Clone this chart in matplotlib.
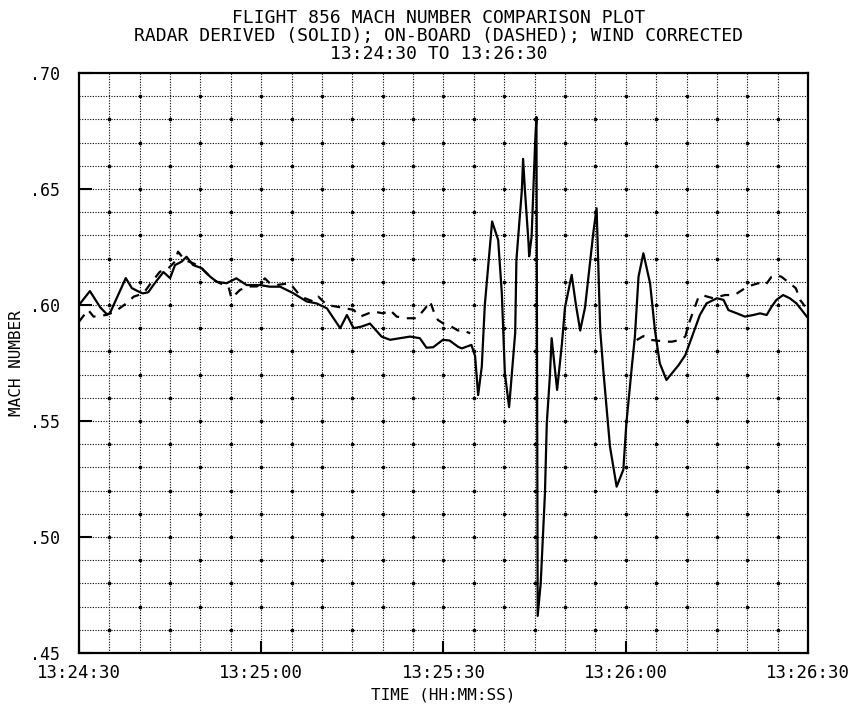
import numpy as np
import matplotlib
matplotlib.use("Agg")
import matplotlib.pyplot as plt

# seconds after 13:24:30
radar_t = [0.0, 1.8, 3.5, 4.6, 5.1, 7.7, 8.7, 9.8, 10.5, 11.4, 12.5, 13.9, 15.0, 15.8,
           16.9, 17.7, 18.8, 20.2, 21.6, 22.7, 24.3, 25.9, 27.6, 29.8, 31.4, 33.1, 35.2,
           37.5, 39.1, 40.8, 43.0, 44.1, 45.2, 46.5, 47.9, 49.8, 51.2, 54.5, 56.1, 57.2,
           58.3, 59.9, 61.0, 62.4, 63.0, 64.6, 65.2, 65.7, 66.3, 66.8, 68.0, 69.0, 69.6,
           70.1, 70.8, 71.8, 72.0, 72.9, 73.1, 73.4, 74.0, 74.1, 74.5, 75.1, 75.3, 75.5,
           76.0, 76.7, 77.0, 77.5, 77.8, 78.7, 79.5, 80.0, 81.1, 81.8, 82.5, 83.3, 84.7,
           85.2, 85.8, 86.3, 87.4, 88.5, 89.6, 90.1, 91.0, 91.5, 92.1, 92.9, 94.0, 94.8,
           95.6, 96.7, 98.7, 99.8, 100.9, 102.2, 103.3, 105.0, 106.1, 106.9, 108.3, 109.6,
           111.0, 112.1, 113.2, 114.0, 114.8, 115.9, 117.0, 118.1, 118.7, 119.8]
radar_mach = [0.600, 0.606, 0.599, 0.596, 0.5965, 0.6116, 0.6073, 0.6058, 0.605, 0.6055,
              0.6095, 0.6142, 0.6116, 0.6172, 0.6187, 0.6208, 0.6172, 0.6159, 0.6122, 0.610,
              0.6094, 0.6115, 0.6086, 0.6086, 0.6079, 0.6079, 0.6052, 0.6015, 0.6007, 0.5986,
              0.590, 0.5957, 0.590, 0.5907, 0.592, 0.5864, 0.585, 0.5864, 0.5857, 0.5816,
              0.5818, 0.585, 0.5847, 0.582, 0.5813, 0.5828, 0.578, 0.5612, 0.5734, 0.600,
              0.636, 0.628, 0.605, 0.5706, 0.556, 0.588, 0.6194, 0.6496, 0.663, 0.6496,
              0.6266, 0.621, 0.6294, 0.6711, 0.681, 0.466, 0.480, 0.519, 0.549, 0.569,
              0.5857, 0.5634, 0.5835, 0.599, 0.613, 0.600, 0.589, 0.599, 0.632, 0.6417,
              0.589, 0.572, 0.539, 0.5217, 0.529, 0.549, 0.5734, 0.5863, 0.6122, 0.6223,
              0.6094, 0.5892, 0.5749, 0.5677, 0.5741, 0.5784, 0.5863, 0.5957, 0.6007, 0.6029,
              0.6022, 0.5978, 0.5964, 0.595, 0.5957, 0.5964, 0.5957, 0.5993, 0.6022, 0.6043,
              0.6029, 0.6007, 0.5987, 0.595]

# on-board data drops out during the oscillations (nan = gap)
onboard_t = [0.0, 1.5, 2.4, 4.5, 5.9, 7.8, 9.0, 10.6, 12.0, 13.3, 14.7, 15.8, 16.3, 17.4,
             18.8, 19.9, 21.0, 22.1, 23.2, 24.6, 25.1, 26.5, 27.9, 29.3, 30.6, 31.4, 32.5,
             34.7, 36.1, 37.2, 38.6, 39.4, 40.8, 42.4, 43.8, 45.2, 46.3, 48.4, 50.1, 51.2,
             52.3, 53.9, 55.6, 57.0, 57.8, 58.6, 59.1, 60.0, 61.3, 62.4, 63.0, 64.4, 78.0,
             91.8, 92.9, 94.0, 96.7, 97.6, 99.0, 99.8, 100.3, 101.1, 101.9, 102.5, 104.4,
             106.3, 107.9, 110.0, 111.8, 113.0, 114.0, 114.8, 115.6, 117.0, 118.0, 118.7, 119.5]
onboard_mach = [0.5928, 0.5979, 0.595, 0.5957, 0.5971, 0.6007, 0.6036, 0.605, 0.610, 0.6143,
                0.6158, 0.6187, 0.623, 0.6194, 0.618, 0.6165, 0.6137, 0.6108, 0.6094, 0.608,
                0.6029, 0.6065, 0.608, 0.608, 0.6115, 0.6094, 0.6086, 0.6094, 0.605, 0.6029,
                0.6015, 0.6036, 0.600, 0.5993, 0.5986, 0.5979, 0.595, 0.5972, 0.5964, 0.5978,
                0.595, 0.5943, 0.5943, 0.5986, 0.6015, 0.5957, 0.5935, 0.592, 0.5907, 0.589,
                0.5893, 0.5878, np.nan,
                0.5849, 0.5866, 0.585, 0.5842, 0.5842, 0.585, 0.5864, 0.5914, 0.5972, 0.6029,
                0.6043, 0.6029, 0.6043, 0.6043, 0.6079, 0.6094, 0.6086, 0.6122, 0.6129, 0.6122,
                0.6094, 0.6072, 0.6022, 0.5994]

tick_pos = [0, 30, 60, 90, 120]
tick_labels = ["13:24:30", "13:25:00", "13:25:30", "13:26:00", "13:26:30"]
ytick_pos = [0.45, 0.50, 0.55, 0.60, 0.65, 0.70]
ytick_labels = [".45", ".50", ".55", ".60", ".65", ".70"]

plt.rcParams['font.family'] = ['DejaVu Sans Mono']
fig = plt.figure(figsize=(8.51, 7.04), dpi=100)
ax = fig.add_axes([0.0928, 0.0724, 0.8567, 0.8239])

ax.set_xlim(0, 120)
ax.set_ylim(0.45, 0.70)

# dotted plotter grid, 5 s by .01
gx = np.arange(5, 120, 5)
gy = np.arange(0.46, 0.695, 0.01)
for x in gx:
    ax.axvline(x, color='black', lw=0.8, ls=(0, (1, 1.4)), zorder=1)
for y in gy:
    ax.axhline(y, color='black', lw=0.8, ls=(0, (1, 1.4)), zorder=1)
GX, GY = np.meshgrid(np.arange(len(gx)), np.arange(len(gy)))
mask = (GX + GY) % 2 == 0
ax.scatter(gx[GX[mask]], gy[GY[mask]], s=7, color='black', zorder=1, linewidths=0)

ax.plot(radar_t, radar_mach, color='black', lw=1.6, zorder=3)
ax.plot(onboard_t, onboard_mach, color='black', lw=1.6, ls=(0, (4, 3.5)), zorder=3)

ax.set_xticks(tick_pos)
ax.set_xticklabels(tick_labels, fontsize=12.5)
ax.set_yticks(ytick_pos)
ax.set_yticklabels(ytick_labels, fontsize=12)
ax.tick_params(axis='both', direction='in', length=9, width=1.5, color='black')
ax.tick_params(axis='x', pad=8)
ax.tick_params(axis='y', pad=14)
for s in ax.spines.values():
    s.set_linewidth(1.6)

ax.set_xlabel("TIME (HH:MM:SS)", fontsize=11.5, labelpad=4)
ax.set_ylabel("MACH NUMBER", fontsize=11.5, labelpad=4)

fig.text(0.515, 0.975, "FLIGHT 856 MACH NUMBER COMPARISON PLOT", ha='center', va='center', fontsize=13)
fig.text(0.515, 0.949, "RADAR DERIVED (SOLID); ON-BOARD (DASHED); WIND CORRECTED", ha='center', va='center', fontsize=13)
fig.text(0.515, 0.923, "13:24:30 TO 13:26:30", ha='center', va='center', fontsize=13)

fig.savefig("out.png", dpi=100)
